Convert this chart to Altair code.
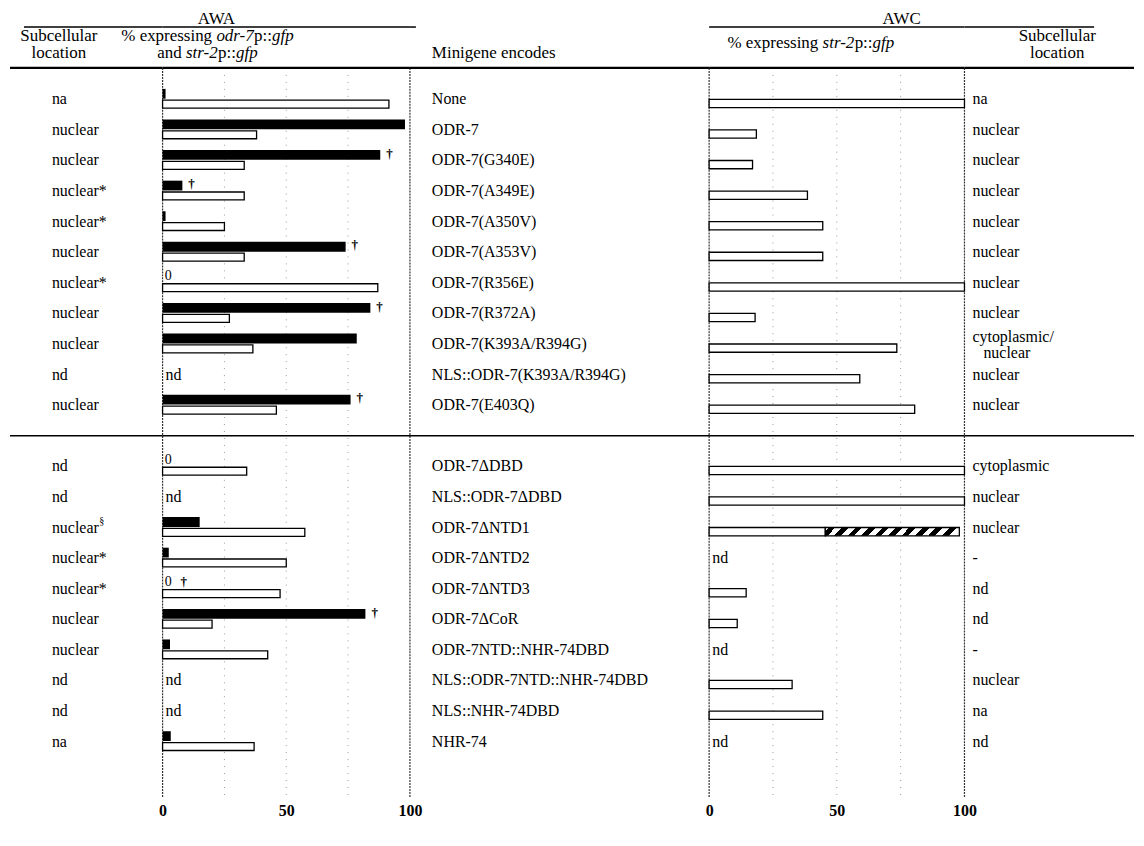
import altair as alt
import pandas as pd

FONT = "Liberation Serif"

# ------------------------------------------------------------------ data
minigenes = ["None", "ODR-7", "ODR-7(G340E)", "ODR-7(A349E)", "ODR-7(A350V)",
             "ODR-7(A353V)", "ODR-7(R356E)", "ODR-7(R372A)", "ODR-7(K393A/R394G)",
             "NLS::ODR-7(K393A/R394G)", "ODR-7(E403Q)",
             "ODR-7ΔDBD", "NLS::ODR-7ΔDBD", "ODR-7ΔNTD1", "ODR-7ΔNTD2", "ODR-7ΔNTD3",
             "ODR-7ΔCoR", "ODR-7NTD::NHR-74DBD", "NLS::ODR-7NTD::NHR-74DBD",
             "NLS::NHR-74DBD", "NHR-74"]
awa_location = ["na", "nuclear", "nuclear", "nuclear*", "nuclear*", "nuclear", "nuclear*",
                "nuclear", "nuclear", "nd", "nuclear",
                "nd", "nd", "nuclear§", "nuclear*", "nuclear*", "nuclear", "nuclear",
                "nd", "nd", "na"]
# AWA: % expressing odr-7p::gfp (black) and str-2p::gfp (white); None = nd
awa_odr7 = [1.2, 98, 88, 8, 1.2, 74, 0, 84, 78.5, None, 76,
            0, None, 15, 2.5, 0, 82, 3, None, None, 3.3]
awa_str2 = [91.5, 38, 33, 33, 25, 33, 87, 27, 36.5, None, 46,
            34, None, 57.5, 50, 47.5, 20, 42.5, None, None, 37]
awa_dagger = [0, 0, 1, 1, 0, 1, 0, 1, 0, 0, 1,
              0, 0, 0, 0, 1, 1, 0, 0, 0, 0]
# AWC: % expressing str-2p::gfp; hatched part runs on to awc_hatched_to
awc_str2 = [100, 18.5, 17, 38.5, 44.5, 44.5, 100, 18, 73.5, 59, 80.5,
            100, 100, 45.5, None, 14.5, 11, None, 32.5, 44.5, None]
awc_hatched_to = [None] * 13 + [98] + [None] * 7
awc_location = ["na", "nuclear", "nuclear", "nuclear", "nuclear", "nuclear", "nuclear",
                "nuclear", "cytoplasmic/|nuclear", "nuclear", "nuclear",
                "cytoplasmic", "nuclear", "nuclear", "-", "nd", "nd", "-",
                "nuclear", "na", "nd"]
axis_ticks = [0, 50, 100]
grid_ticks = [0, 25, 50, 75, 100]

# ------------------------------------------------------------------ layout
rows = [i if i < 11 else i + 1 for i in range(len(minigenes))]   # row 11 = separator
ROW_PX = 30.67
Y_DOM = [-2.95, 22.81]
H = round((Y_DOM[1] - Y_DOM[0]) * ROW_PX)
W_A, W_B, W_C, W_D, W_E = 153, 248, 300, 256, 170
YS = alt.Scale(domain=Y_DOM, reverse=True, nice=False, zero=False)
XS = alt.Scale(domain=[0, 100], nice=False, zero=False)
AX = alt.Axis(values=axis_ticks, title=None, domain=False, ticks=False, grid=False,
              labelFont=FONT, labelFontSize=16, labelFontWeight="bold", labelPadding=6,
              labelFlush=False, labelColor="black")

Y_HEAD, Y_TOPLINE, Y_SUB1, Y_SUB2, Y_MID, Y_THICK, Y_SEP = -2.624, -2.363, -2.07, -1.515, -1.84, -1.026, 11
HF = 17   # header font size
RF = 16   # row label font size

df = pd.DataFrame({"row": rows, "gene": minigenes, "awa_loc": awa_location,
                   "odr7": awa_odr7, "str2": awa_str2, "dag": awa_dagger,
                   "awc": awc_str2, "hatch": awc_hatched_to, "awc_loc": awc_location})

# Times metrics (Liberation Serif) for placing mixed roman/italic header pieces
RG = {' ': 250, '%': 833, 'a': 444, 'c': 444, 'd': 500, 'e': 444, 'g': 500, 'i': 278,
      'l': 278, 'n': 500, 'p': 500, 'r': 333, 's': 389, 't': 278, 'u': 500, 'x': 500,
      'o': 500, 'f': 333, ':': 278, '-': 333, '2': 500, '7': 500}
IT = {'o': 500, 'd': 500, 'r': 389, '-': 333, '7': 500, 'g': 500, 'f': 278, 'p': 500,
      's': 389, 't': 278, '2': 500}


def twidth(s, size, italic=False):
    m = IT if italic else RG
    return sum(m.get(ch, 500) for ch in s) / 1000 * size


def seg_rows(segs, size, center_px, y):
    total = sum(twidth(s, size, it) for s, it in segs)
    x = center_px - total / 2
    out = []
    for s, it in segs:
        out.append({"px": x, "t": s, "it": it, "y": y})
        x += twidth(s, size, it)
    return out


def Y(f):
    return alt.Y(f"{f}:Q", scale=YS, axis=None)


def XB(f):
    return alt.X(f"{f}:Q", scale=XS, axis=AX)


def hrule(y, x1, x2, w):
    return alt.Chart(pd.DataFrame({"y": [y]})).mark_rule(color="black", strokeWidth=w).encode(
        x=alt.value(x1), x2=alt.value(x2), y=Y("y"))


def texts(items, x, size=RF, align="left"):
    d = pd.DataFrame(items, columns=["y", "t"])
    return alt.Chart(d).mark_text(font=FONT, fontSize=size, align=align, baseline="middle",
                                  color="black").encode(x=alt.value(x), y=Y("y"), text="t:N")


def seg_layers(rows_):
    d = pd.DataFrame(rows_)
    out = []
    for it, style in [(False, "normal"), (True, "italic")]:
        out.append(alt.Chart(d[d["it"] == it]).mark_text(
            font=FONT, fontSize=HF, fontStyle=style, align="left", baseline="middle",
            color="black").encode(x=alt.X("px:Q", scale=None, axis=None), y=Y("y"), text="t:N"))
    return out


def grid_layers():
    g = pd.DataFrame({"v": grid_ticks})
    base_g = alt.Chart(g).transform_calculate(y1=str(Y_THICK), y2=str(Y_DOM[1]))
    edge = base_g.transform_filter("datum.v == 0 || datum.v == 100").mark_rule(
        color="#333333", strokeWidth=1.2, strokeDash=[2, 1]).encode(
        x=XB("v"), y=Y("y1"), y2="y2:Q")
    inner = base_g.transform_filter("datum.v > 0 && datum.v < 100").mark_rule(
        color="#9a9a9a", strokeWidth=1, strokeDash=[1, 6]).encode(
        x=XB("v"), y=Y("y1"), y2="y2:Q")
    return [edge, inner]


def header_lines(W, top=None):
    out = []
    if top is not None:
        out.append(hrule(Y_TOPLINE, top[0], top[1], 1.5))
    out += [hrule(Y_THICK, 0, W, 2.2), hrule(Y_SEP, 0, W, 1.5)]
    return out


base = alt.Chart(df)

# ------------------------------------------------------------------ panel A: AWA location
LAB_A = 42
sup_x = LAB_A + twidth("nuclear", RF) + 0.5
panel_a = alt.layer(
    base.transform_calculate(t="replace(datum.awa_loc, '§', '')").mark_text(
        font=FONT, fontSize=RF, align="left", baseline="middle", color="black").encode(
        x=alt.value(LAB_A), y=Y("row"), text="t:N"),
    base.transform_filter("indexof(datum.awa_loc, '§') >= 0").transform_calculate(
        ys="datum.row - 0.2").mark_text(font=FONT, fontSize=10, align="left",
                                         baseline="middle", color="black").encode(
        x=alt.value(sup_x), y=Y("ys"), text=alt.value("§")),
    texts([(Y_SUB1, "Subcellular"), (Y_SUB2, "location")], 49, size=HF, align="center"),
    *seg_layers(seg_rows([("% expressing ", False), ("odr-7", True), ("p::", False), ("gfp", True)],
                         HF, 198, Y_SUB1) +
                seg_rows([("and ", False), ("str-2", True), ("p::", False), ("gfp", True)],
                         HF, 198, Y_SUB2)),
    *header_lines(W_A, top=(14, W_A)),
).properties(width=W_A, height=H)

# ------------------------------------------------------------------ panel B: AWA bars
stops = [alt.GradientStop(color="white", offset=0)]
N = 10
for i in range(N):
    a, b = (i + 0.25) / N, (i + 0.75) / N
    stops += [alt.GradientStop(color="white", offset=a), alt.GradientStop(color="black", offset=a),
              alt.GradientStop(color="black", offset=b), alt.GradientStop(color="white", offset=b)]
stops.append(alt.GradientStop(color="white", offset=1))
hatch = alt.LinearGradient(gradient="linear", stops=stops, x1=0, y1=0, x2=1, y2=0.06)

panel_b = alt.layer(
    *grid_layers(),
    base.transform_filter("datum.odr7 > 0").transform_calculate(
        y1="datum.row - 0.34", y2="datum.row - 0.02", x0="0").mark_rect(color="black").encode(
        x=XB("x0"), x2="odr7:Q", y=Y("y1"), y2="y2:Q"),
    base.transform_filter("datum.str2 > 0").transform_calculate(
        y1="datum.row + 0.03", y2="datum.row + 0.29", x0="0").mark_rect(
        fill="white", stroke="black", strokeWidth=1.3).encode(
        x=XB("x0"), x2="str2:Q", y=Y("y1"), y2="y2:Q"),
    base.transform_filter("datum.odr7 === 0").transform_calculate(
        ys="datum.row - 0.22", xs="0.9").mark_text(font=FONT, fontSize=14, align="left",
                                                     baseline="middle", color="black").encode(
        x=XB("xs"), y=Y("ys"), text=alt.value("0")),
    base.transform_filter("datum.dag == 1").transform_calculate(
        ys="datum.row - 0.22", xs="datum.odr7 > 0 ? datum.odr7 : 4.8").mark_text(
        font=FONT, fontSize=13, fontWeight="bold", align="left", baseline="middle", dx=6,
        color="black").encode(
        x=XB("xs"), y=Y("ys"), text=alt.value("†")),
    base.transform_filter("!isValid(datum.odr7)").transform_calculate(xs="1.2").mark_text(
        font=FONT, fontSize=RF, align="left", baseline="middle", color="black").encode(
        x=XB("xs"), y=Y("row"), text=alt.value("nd")),
    texts([(Y_HEAD, "AWA")], 54, size=17, align="center"),
    *header_lines(W_B, top=(0, W_B)),
).properties(width=W_B, height=H)

# ------------------------------------------------------------------ panel C: minigenes
LAB_C = 22
panel_c = alt.layer(
    base.mark_text(font=FONT, fontSize=RF, align="left", baseline="middle",
                   color="black").encode(x=alt.value(LAB_C), y=Y("row"), text="gene:N"),
    texts([(Y_SUB2, "Minigene encodes")], LAB_C, size=HF),
    *seg_layers(seg_rows([("% expressing ", False), ("str-2", True), ("p::", False), ("gfp", True)],
                         HF, 402, Y_MID)),
    *header_lines(W_C, top=(0, 6)),
).properties(width=W_C, height=H)

# ------------------------------------------------------------------ panel D: AWC bars
panel_d = alt.layer(
    *grid_layers(),
    base.transform_filter("datum.awc > 0").transform_calculate(
        y1="datum.row + 0.0", y2="datum.row + 0.27", x0="0").mark_rect(
        fill="white", stroke="black", strokeWidth=1.3).encode(
        x=XB("x0"), x2="awc:Q", y=Y("y1"), y2="y2:Q"),
    base.transform_filter("datum.hatch > 0").transform_calculate(
        y1="datum.row + 0.0", y2="datum.row + 0.27").mark_rect(
        fill=hatch, stroke="black", strokeWidth=1.3).encode(
        x=XB("awc"), x2="hatch:Q", y=Y("y1"), y2="y2:Q"),
    base.transform_filter("!isValid(datum.awc)").transform_calculate(xs="1.2").mark_text(
        font=FONT, fontSize=RF, align="left", baseline="middle", color="black").encode(
        x=XB("xs"), y=Y("row"), text=alt.value("nd")),
    texts([(Y_HEAD, "AWC")], 193, size=17, align="center"),
    *header_lines(W_D, top=(0, W_D)),
).properties(width=W_D, height=H)

# ------------------------------------------------------------------ panel E: AWC location
LAB_E = 8
two = "indexof(datum.awc_loc, '|') >= 0"
panel_e = alt.layer(
    base.transform_filter("indexof(datum.awc_loc, '|') < 0").mark_text(
        font=FONT, fontSize=RF, align="left", baseline="middle", color="black").encode(
        x=alt.value(LAB_E), y=Y("row"), text="awc_loc:N"),
    base.transform_filter(two).transform_calculate(
        t="split(datum.awc_loc, '|')[0]", ys="datum.row - 0.24").mark_text(
        font=FONT, fontSize=RF, align="left", baseline="middle", color="black").encode(
        x=alt.value(LAB_E), y=Y("ys"), text="t:N"),
    base.transform_filter(two).transform_calculate(
        t="split(datum.awc_loc, '|')[1]", ys="datum.row + 0.28").mark_text(
        font=FONT, fontSize=RF, align="left", baseline="middle", color="black").encode(
        x=alt.value(LAB_E + 11), y=Y("ys"), text="t:N"),
    texts([(Y_SUB1, "Subcellular"), (Y_SUB2, "location")], 93, size=HF, align="center"),
    *header_lines(W_E, top=(0, 130)),
).properties(width=W_E, height=H)

chart = alt.hconcat(panel_a, panel_b, panel_c, panel_d, panel_e, spacing=0,
                    bounds="flush").properties(padding=0).configure_view(stroke=None)

chart.save("out.html", embed_options={"renderer": "svg", "actions": False})
